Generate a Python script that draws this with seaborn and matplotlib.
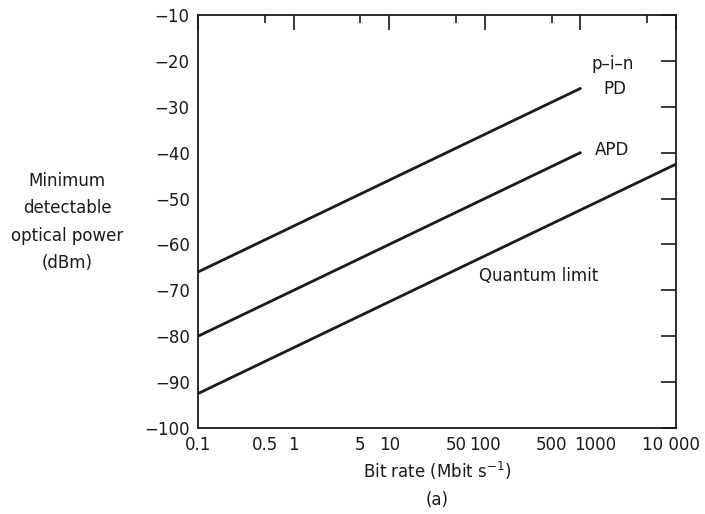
import numpy as np
import pandas as pd
import matplotlib
matplotlib.use('Agg')
import matplotlib.pyplot as plt
import matplotlib.ticker as mticker
import matplotlib.transforms as mtrans
import seaborn as sns

# Values (bit rate in Mbit/s, power in dBm)
pin_rate = [0.1, 1000]
pin_power = [-66, -26]
apd_rate = [0.1, 1000]
apd_power = [-80, -40]
quantum_rate = [0.1, 10000]
quantum_power = [-92.5, -42.5]

x_major = [0.1, 1, 10, 100, 1000, 10000]
x_minor = [0.5, 5, 50, 500, 5000]
x_labels = {0.1: '0.1', 0.5: '0.5', 1: '1', 5: '5', 10: '10', 50: '50',
            100: '100', 500: '500', 1000: '1000', 10000: '10 000'}
y_ticks = list(range(-100, -9, 10))

df = pd.concat([
    pd.DataFrame({'rate': pin_rate, 'power': pin_power, 'detector': 'pin'}),
    pd.DataFrame({'rate': apd_rate, 'power': apd_power, 'detector': 'apd'}),
    pd.DataFrame({'rate': quantum_rate, 'power': quantum_power, 'detector': 'quantum'}),
])

sns.set_style('white')
plt.rcParams['font.family'] = ['DejaVu Sans']

fig = plt.figure(figsize=(7.05, 5.14), dpi=100)
ax = fig.add_axes([198 / 705, 1 - 428 / 514, (676 - 198) / 705, (428 - 15) / 514])

sns.lineplot(data=df, x='rate', y='power', units='detector', estimator=None,
             color='#1a1a1a', linewidth=2.0, ax=ax, legend=False)

ax.set_xscale('log')
ax.set_xlim(0.1, 10000)
ax.set_ylim(-100, -10)


def fmt(v, pos):
    key = round(v, 1) if v < 1 else int(round(v))
    return x_labels.get(key, '')


ax.xaxis.set_major_locator(mticker.FixedLocator(x_major))
ax.xaxis.set_minor_locator(mticker.FixedLocator(x_minor))
ax.xaxis.set_major_formatter(mticker.FuncFormatter(fmt))
ax.xaxis.set_minor_formatter(mticker.FuncFormatter(fmt))
ax.set_yticks(y_ticks)
ax.set_yticklabels(['\u2212%d' % abs(v) for v in y_ticks])

ax.tick_params(axis='both', which='major', direction='in', length=11, width=1.2,
               top=True, right=True, labelsize=12, colors='#1a1a1a', pad=6)
ax.tick_params(axis='x', which='minor', direction='in', length=6, width=1.2,
               top=True, labelsize=12, colors='#1a1a1a', pad=6)
for s in ax.spines.values():
    s.set_linewidth(1.3)
    s.set_color('#1a1a1a')

# nudge the crowded labels at the right end as in the original
major_ticks = ax.xaxis.get_major_ticks()
for tick, dx in [(major_ticks[4], 0.15), (major_ticks[5], -0.05)]:
    tick.label1.set_transform(tick.label1.get_transform() +
                              mtrans.ScaledTranslation(dx, 0, fig.dpi_scale_trans))

ax.set_xlabel('')
ax.set_ylabel('')

txt = dict(fontsize=12, color='#1a1a1a', ha='center', va='center')
ax.text(2190, -20.6, 'p\u2013i\u2013n', **txt)
ax.text(2300, -26.1, 'PD', **txt)
ax.text(2140, -39.5, 'APD', **txt)
ax.text(369, -66.9, 'Quantum limit', **txt)

fig.text(67 / 705, 1 - 222 / 514, 'Minimum\ndetectable\noptical power\n(dBm)',
         fontsize=12, color='#1a1a1a', ha='center', va='center', linespacing=1.65)
fig.text(437 / 705, 1 - 471 / 514, 'Bit rate (Mbit s$^{-1}$)', fontsize=12,
         color='#1a1a1a', ha='center', va='center')
fig.text(437 / 705, 1 - 500 / 514, '(a)', fontsize=12, color='#1a1a1a',
         ha='center', va='center')

fig.savefig('out.png', dpi=100)
